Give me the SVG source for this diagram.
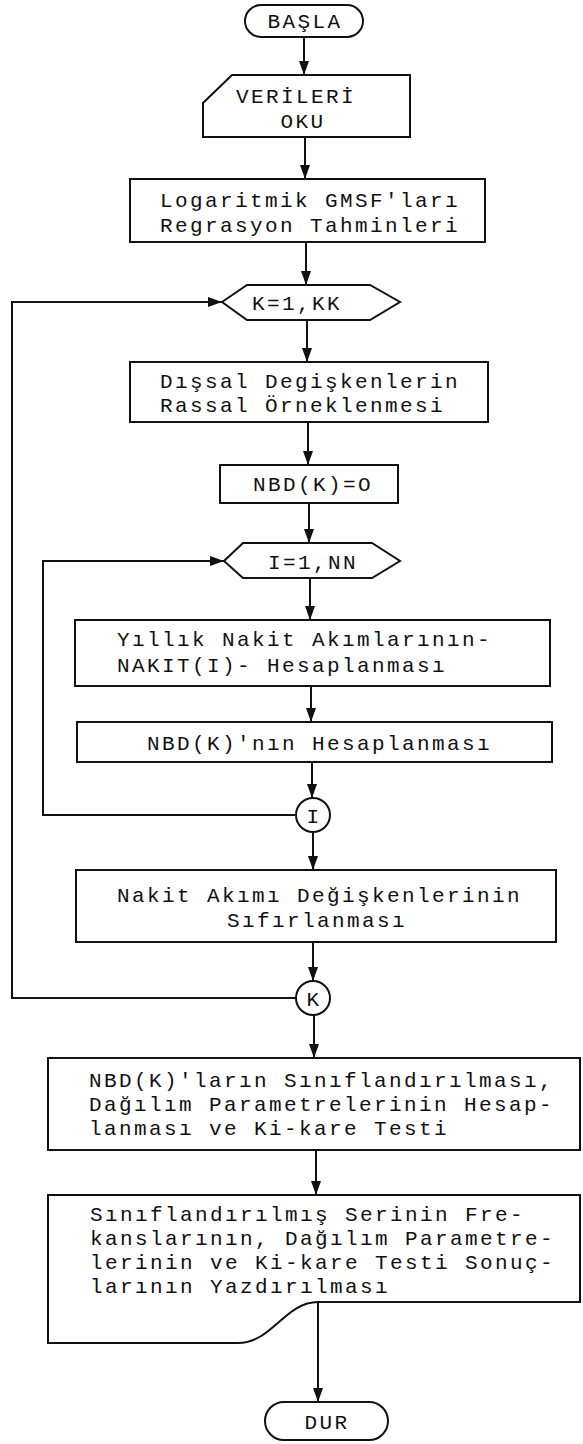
<svg xmlns="http://www.w3.org/2000/svg" width="583" height="1444" viewBox="0 0 583 1444">
<style>
.s{fill:#fff;stroke:#111;stroke-width:2}
.c{fill:none;stroke:#111;stroke-width:2}
.t{font-family:"Liberation Mono","DejaVu Sans Mono",monospace;font-size:21px;letter-spacing:2.4px;fill:#111}
.m{text-anchor:middle}
</style>
<defs>
<marker id="ah" viewBox="0 0 14 10" refX="14" refY="5" markerWidth="14" markerHeight="10" markerUnits="userSpaceOnUse" orient="auto">
<path d="M0,0 L14,5 L0,10 z" fill="#111"/>
</marker>
</defs>
<rect width="583" height="1444" fill="#fff"/>
<g id="connectors">
<line class="c" x1="304" y1="37" x2="304" y2="75" marker-end="url(#ah)"/>
<line class="c" x1="305" y1="137" x2="305" y2="179" marker-end="url(#ah)"/>
<line class="c" x1="306" y1="242" x2="306" y2="285" marker-end="url(#ah)"/>
<line class="c" x1="307" y1="320" x2="307" y2="362" marker-end="url(#ah)"/>
<line class="c" x1="308" y1="422" x2="308" y2="465" marker-end="url(#ah)"/>
<line class="c" x1="309" y1="503" x2="309" y2="543" marker-end="url(#ah)"/>
<line class="c" x1="310" y1="578" x2="310" y2="620" marker-end="url(#ah)"/>
<line class="c" x1="311" y1="686" x2="311" y2="722" marker-end="url(#ah)"/>
<line class="c" x1="312" y1="762" x2="312" y2="798" marker-end="url(#ah)"/>
<line class="c" x1="313" y1="832" x2="313" y2="870" marker-end="url(#ah)"/>
<line class="c" x1="313" y1="942" x2="313" y2="981" marker-end="url(#ah)"/>
<line class="c" x1="314" y1="1015" x2="314" y2="1058" marker-end="url(#ah)"/>
<line class="c" x1="316" y1="1150" x2="316" y2="1195" marker-end="url(#ah)"/>
<line class="c" x1="318" y1="1302" x2="318" y2="1402" marker-end="url(#ah)"/>
<path class="c" d="M296,998 H12 V302 H222" marker-end="url(#ah)"/>
<path class="c" d="M296,815 H43 V561 H224" marker-end="url(#ah)"/>
</g>
<g id="basla">
<rect class="s" x="245" y="5" width="118" height="32" rx="16"/>
<text class="t m" x="305" y="28">BAŞLA</text>
</g>
<g id="verileri-oku">
<path class="s" d="M232,75 H410 V137 H203 V103 Z"/>
<text class="t m" x="296" y="103">VERİLERİ</text>
<text class="t m" x="303" y="128">OKU</text>
</g>
<g id="logaritmik">
<rect class="s" x="130" y="179" width="355" height="63"/>
<text class="t" x="160" y="207">Logaritmik GMSF'ları</text>
<text class="t" x="160" y="232">Regrasyon Tahminleri</text>
</g>
<g id="k-loop">
<path class="s" d="M222,302 L247,285 H370 L400,302 L370,320 H247 Z"/>
<text class="t" x="252" y="310">K=1,KK</text>
</g>
<g id="dissal">
<rect class="s" x="130" y="362" width="358" height="60"/>
<text class="t" x="160" y="388">Dışsal Degişkenlerin</text>
<text class="t" x="160" y="412">Rassal Örneklenmesi</text>
</g>
<g id="nbd0">
<rect class="s" x="220" y="465" width="178" height="38"/>
<text class="t" x="253" y="491">NBD(K)=O</text>
</g>
<g id="i-loop">
<path class="s" d="M224,561 L243,543 H372 L400,561 L372,578 H243 Z"/>
<text class="t" x="268" y="569">I=1,NN</text>
</g>
<g id="yillik">
<rect class="s" x="75" y="620" width="475" height="66"/>
<text class="t" x="117" y="646">Yıllık Nakit Akımlarının-</text>
<text class="t" x="117" y="672">NAKIT(I)- Hesaplanması</text>
</g>
<g id="nbd-hesap">
<rect class="s" x="77" y="722" width="475" height="40"/>
<text class="t" x="147" y="750">NBD(K)'nın Hesaplanması</text>
</g>
<g id="i-conn">
<circle class="s" cx="313" cy="815" r="17"/>
<text class="t m" x="314" y="823">I</text>
</g>
<g id="nakit">
<rect class="s" x="76" y="870" width="480" height="72"/>
<text class="t" x="117" y="902">Nakit Akımı Değişkenlerinin</text>
<text class="t m" x="317" y="927">Sıfırlanması</text>
</g>
<g id="k-conn">
<circle class="s" cx="313" cy="998" r="17"/>
<text class="t m" x="314" y="1006">K</text>
</g>
<g id="siniflandirma">
<rect class="s" x="48" y="1058" width="532" height="92"/>
<text class="t" x="89" y="1087">NBD(K)'ların Sınıflandırılması,</text>
<text class="t" x="89" y="1111">Dağılım Parametrelerinin Hesap-</text>
<text class="t" x="89" y="1135">lanması ve Ki-kare Testi</text>
</g>
<g id="yazdir">
<path class="s" d="M48,1195 H580 V1302 H318 C285,1302 272,1343 238,1343 H48 Z"/>
<text class="t" x="90" y="1221">Sınıflandırılmış Serinin Fre-</text>
<text class="t" x="90" y="1245">kanslarının, Dağılım Parametre-</text>
<text class="t" x="90" y="1269">lerinin ve Ki-kare Testi Sonuç-</text>
<text class="t" x="90" y="1293">larının Yazdırılması</text>
</g>
<g id="dur">
<rect class="s" x="265" y="1402" width="123" height="38" rx="19"/>
<text class="t m" x="327" y="1429">DUR</text>
</g>
</svg>
